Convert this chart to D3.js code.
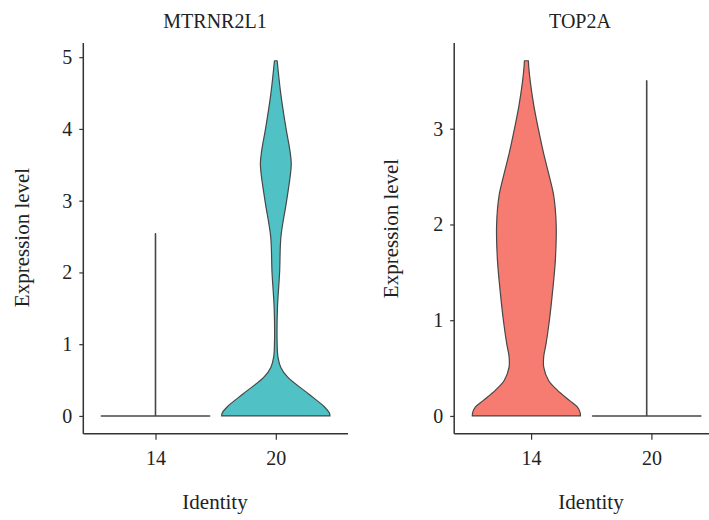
<!DOCTYPE html>
<html>
<head>
<meta charset="utf-8">
<script src="https://cdn.jsdelivr.net/npm/d3@7"></script>
<style>
  html, body { margin: 0; padding: 0; background: #fff; }
  svg { display: block; }
  text { font-family: "Liberation Serif", "DejaVu Serif", serif; fill: #222; }
</style>
</head>
<body>
<svg id="chart" width="709" height="520"></svg>
<script>
// Identity groups on the x axis
const categories = ["14", "20"];

// Violin outlines: expression level and relative half-width (1 = widest)
const mtrnr_14_levels = [0, 0.0001, 2.54];
const mtrnr_14_widths = [1, 0, 0];
const mtrnr_20_levels = [0, 0.04, 0.125, 0.31, 0.54, 0.68, 0.82, 1.0, 1.5, 2.0, 2.5, 3.0, 3.5, 3.7, 4.0, 4.5, 4.95];
const mtrnr_20_widths = [1.0, 0.99, 0.9, 0.6, 0.22, 0.09, 0.04, 0.025, 0.03, 0.07, 0.095, 0.2, 0.285, 0.26, 0.19, 0.09, 0.025];

const top2a_14_levels = [0, 0.04, 0.094, 0.16, 0.27, 0.37, 0.51, 0.62, 0.76, 1.0, 1.28, 1.63, 2.0, 2.3, 2.5, 2.75, 3.0, 3.25, 3.5, 3.65, 3.71];
const top2a_14_widths = [1.0, 0.99, 0.94, 0.8, 0.57, 0.41, 0.32, 0.32, 0.365, 0.425, 0.48, 0.535, 0.55, 0.505, 0.425, 0.315, 0.22, 0.135, 0.07, 0.043, 0.037];
const top2a_20_levels = [0, 0.0001, 3.50];
const top2a_20_widths = [1, 0, 0];

// Axis tick labels
const mtrnrTicks = [0, 1, 2, 3, 4, 5];
const top2aTicks = [0, 1, 2, 3];

const panels = [
  {
    gene: "MTRNR2L1",
    fill: "#50C2C5",
    ticks: mtrnrTicks,
    violins: [
      { levels: mtrnr_14_levels, widths: mtrnr_14_widths, smooth: false },
      { levels: mtrnr_20_levels, widths: mtrnr_20_widths, smooth: true }
    ],
    left: 83.3, width: 264.7, tickShift: 0,
    titleX: 215, xTitleX: 215, yTitleX: 29, yTitleY: 237.5
  },
  {
    gene: "TOP2A",
    fill: "#F67B70",
    ticks: top2aTicks,
    violins: [
      { levels: top2a_14_levels, widths: top2a_14_widths, smooth: true },
      { levels: top2a_20_levels, widths: top2a_20_widths, smooth: false }
    ],
    left: 454.2, width: 264.7, tickShift: 4.7,
    titleX: 580, xTitleX: 591, yTitleX: 398, yTitleY: 228.5
  }
];

const svg = d3.select("#chart");
const plotTop = 43, plotBottom = 433.7;
const axisColor = "#333";

panels.forEach(p => {
  const g = svg.append("g");
  const maxLevel = d3.max(p.violins, v => d3.max(v.levels));
  const pad = maxLevel * 0.05;
  const y = d3.scaleLinear().domain([-pad, maxLevel + pad]).range([plotBottom, plotTop]);
  const x = d3.scaleLinear().domain([0.4, 2.6]).range([p.left, p.left + p.width]);
  const unit = x(1) - x(0);
  const halfMax = 0.45 * unit;

  // violins
  p.violins.forEach((v, i) => {
    const cx = x(i + 1);
    const pts = v.levels.map((lv, k) => ({ lv, w: v.widths[k] }));
    const curve = v.smooth ? d3.curveCatmullRom.alpha(0.5) : d3.curveLinear;
    const leftSide = d3.line().curve(curve)
      .x(d => cx - d.w * halfMax).y(d => y(d.lv));
    const rightSide = d3.line().curve(curve)
      .x(d => cx + d.w * halfMax).y(d => y(d.lv));
    const topW = pts[pts.length - 1].w * halfMax;
    const path = leftSide(pts) + "L" + (cx + topW) + "," + y(pts[pts.length - 1].lv)
      + rightSide(pts.slice().reverse()).replace(/^M/, "L") + "Z";
    g.append("path")
      .attr("d", path)
      .attr("fill", v.smooth ? p.fill : "none")
      .attr("stroke", "#474747")
      .attr("stroke-width", v.smooth ? 1.2 : 1.6)
      .attr("stroke-linejoin", "round");
  });

  // y axis
  const yAxis = g.append("g")
    .attr("transform", `translate(${p.left},0)`)
    .call(d3.axisLeft(y).tickValues(p.ticks).tickSize(4).tickPadding(7).tickFormat(d3.format("d")));
  yAxis.select(".domain").attr("d", `M0,${plotTop}V${plotBottom}`);

  // x axis
  const xTickScale = d3.scaleLinear().domain([0.4, 2.6])
    .range([p.left + p.tickShift, p.left + p.width + p.tickShift]);
  const xAxis = g.append("g")
    .attr("transform", `translate(0,${plotBottom})`)
    .call(d3.axisBottom(xTickScale).tickValues([1, 2]).tickSize(6).tickPadding(11)
      .tickFormat(d => categories[d - 1]));
  xAxis.select(".domain").attr("d", `M${p.left},0H${p.left + p.width}`);

  [yAxis, xAxis].forEach(a => {
    a.select(".domain").attr("stroke", axisColor).attr("stroke-width", 1.5);
    a.selectAll(".tick line").attr("stroke", axisColor).attr("stroke-width", 1.2);
    a.selectAll(".tick text")
      .style("font-family", '"Liberation Serif", serif')
      .style("font-size", "20px").attr("fill", "#222");
  });

  // titles
  g.append("text").attr("x", p.titleX).attr("y", 28)
    .attr("text-anchor", "middle").style("font-size", "20px").text(p.gene);
  g.append("text").attr("x", p.xTitleX).attr("y", 509)
    .attr("text-anchor", "middle").style("font-size", "21px").text("Identity");
  g.append("text")
    .attr("transform", `translate(${p.yTitleX},${p.yTitleY}) rotate(-90)`)
    .attr("text-anchor", "middle").style("font-size", "21px").text("Expression level");
});
</script>
</body>
</html>
